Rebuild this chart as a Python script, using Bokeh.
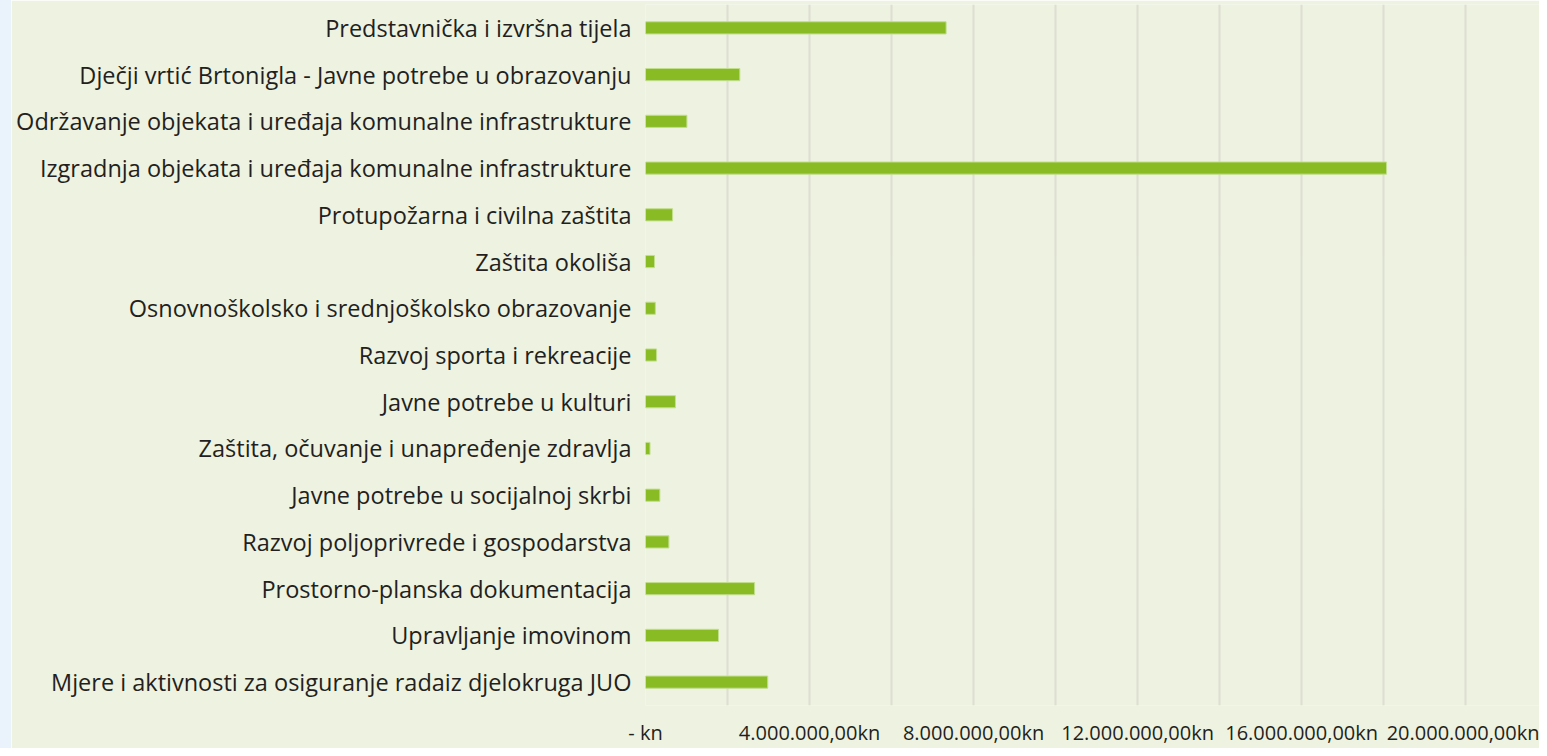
from bokeh.plotting import figure
from bokeh.models import FactorRange, Range1d, FixedTicker, ColumnDataSource, Div
from bokeh.layouts import row
from bokeh.embed import file_html
from bokeh.resources import INLINE

categories = [
    "Predstavnička i izvršna tijela",
    "Dječji vrtić Brtonigla - Javne potrebe u obrazovanju",
    "Održavanje objekata i uređaja komunalne infrastrukture",
    "Izgradnja objekata i uređaja komunalne infrastrukture",
    "Protupožarna i civilna zaštita",
    "Zaštita okoliša",
    "Osnovnoškolsko i srednjoškolsko obrazovanje",
    "Razvoj sporta i rekreacije",
    "Javne potrebe u kulturi",
    "Zaštita, očuvanje i unapređenje zdravlja",
    "Javne potrebe u socijalnoj skrbi",
    "Razvoj poljoprivrede i gospodarstva",
    "Prostorno-planska dokumentacija",
    "Upravljanje imovinom",
    "Mjere i aktivnosti za osiguranje radaiz djelokruga JUO",
]
values = [
    7330000, 2300000, 1010000, 18070000, 660000, 220000, 240000, 270000,
    730000, 110000, 350000, 570000, 2660000, 1780000, 2980000,
]
x_tick_values = [0, 4000000, 8000000, 12000000, 16000000, 20000000]
x_tick_labels = ["- kn", "4.000.000,00kn", "8.000.000,00kn",
                 "12.000.000,00kn", "16.000.000,00kn", "20.000.000,00kn"]
grid_values = [0, 2000000, 4000000, 6000000, 8000000, 10000000, 12000000,
               14000000, 16000000, 18000000, 20000000]

BG = "#eef2e1"
BAR = "#88bb24"
FONT = "Open Sans"

src = ColumnDataSource(dict(cat=categories, val=values))

p = figure(
    width=1528, height=748,
    y_range=FactorRange(factors=list(reversed(categories)), range_padding=0),
    x_range=Range1d(0, 21800000),
    output_backend="svg", toolbar_location=None,
    min_border_left=634, min_border_right=0, min_border_top=4, min_border_bottom=40,
    background_fill_color=BG, border_fill_color=BG,
)
p.outline_line_color = None

p.hbar(y="cat", right="val", left=0, height=0.26, source=src,
       fill_color=BAR, line_color="#c2de8e", line_width=1)

p.xaxis.ticker = FixedTicker(ticks=x_tick_values)
p.xaxis.major_label_overrides = {v: l for v, l in zip(x_tick_values, x_tick_labels)}
p.xaxis.axis_line_color = None
p.xaxis.major_tick_line_color = None
p.xaxis.minor_tick_line_color = None
p.xaxis.major_tick_out = 0
p.xaxis.major_tick_in = 0
p.xaxis.major_label_standoff = 13
p.xaxis.major_label_text_font = FONT
p.xaxis.major_label_text_font_size = "20px"
p.xaxis.major_label_text_color = "#231f20"

p.yaxis.axis_line_color = None
p.yaxis.major_tick_line_color = None
p.yaxis.minor_tick_line_color = None
p.yaxis.major_tick_out = 0
p.yaxis.major_tick_in = 0
p.yaxis.major_label_standoff = 14
p.yaxis.major_label_text_font = FONT
p.yaxis.major_label_text_font_size = "23.5px"
p.yaxis.major_label_text_color = "#231f20"

p.xgrid.ticker = FixedTicker(ticks=grid_values)
p.xgrid.grid_line_color = "#dcdfd1"
p.xgrid.grid_line_width = 2
p.ygrid.grid_line_color = None

strip = Div(text="", width=11, height=748,
            styles={"background-color": "#eaf3fc", "margin": "0", "padding": "0"})

layout = row(strip, p, spacing=0)

html = file_html(layout, INLINE)
html = html.replace("<body>", '<body style="margin:8px 0 0 8px;">', 1)
open("out.html", "w").write(html)
